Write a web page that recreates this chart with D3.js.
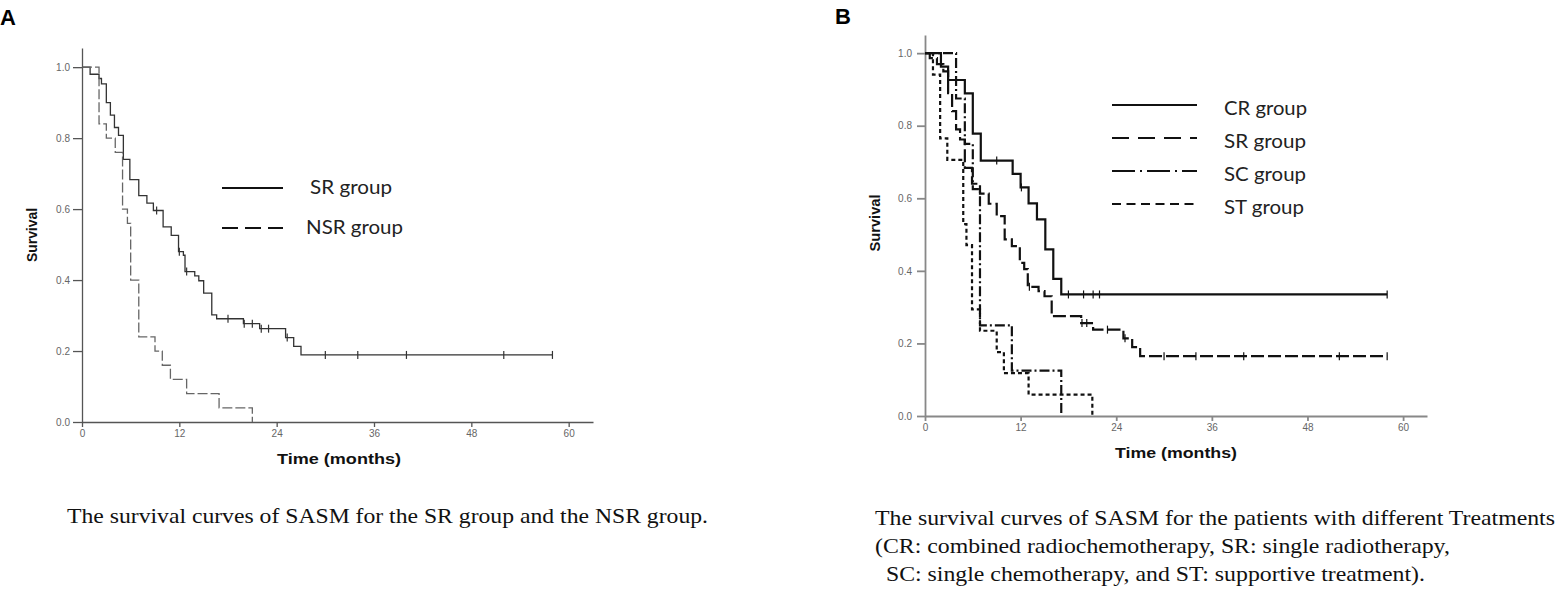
<!DOCTYPE html>
<html>
<head>
<meta charset="utf-8">
<title>SASM survival curves</title>
<style>
  body { margin: 0; background: #fff; }
  .axis text { font-family: "Liberation Sans", Arial, sans-serif; font-size: 10px; fill: #666; }
  .axtitle { font-family: "Liberation Sans", Arial, sans-serif; font-weight: bold; fill: #111; }
  .legend { font-family: Lato, "Open Sans", sans-serif; font-size: 20px; fill: #222; }
  .caption { font-family: "Liberation Serif", "Times New Roman", serif; font-size: 21px; fill: #111; }
  .panel { font-family: "Liberation Sans", Arial, sans-serif; font-size: 22px; font-weight: bold; fill: #000; }
</style>
<script src="https://cdn.jsdelivr.net/npm/d3@7"></script>
</head>
<body>
<script>
// axis ticks
var timeTicks = [0, 12, 24, 36, 48, 60];
var survTicks = [0, 0.2, 0.4, 0.6, 0.8, 1.0];

// panel A: [months, survival] at each drop
var srGroupA = [[0,1],[1.0,0.98],[2.1,0.968],[2.4,0.953],[3.0,0.9],[3.5,0.865],[4.0,0.83],[4.5,0.808],[5.1,0.74],[5.9,0.683],[7.0,0.638],[8.0,0.617],[8.8,0.596],[10.0,0.55],[11.0,0.526],[11.9,0.48],[12.5,0.47],[12.7,0.424],[13.9,0.412],[14.4,0.398],[15.0,0.363],[16.0,0.302],[16.6,0.291],[19.9,0.277],[21.9,0.263],[25.1,0.238],[26.1,0.213],[27.0,0.189],[58,0.189]];
var srCensorA = [9.2, 12.0, 12.9, 18.0, 20.0, 21.0, 22.1, 23.0, 25.3, 30, 34, 40, 52, 58];
var nsrGroupA = [[0,1],[2.1,0.84],[3.0,0.80],[4.1,0.76],[5.0,0.60],[5.6,0.56],[6.0,0.40],[7.0,0.24],[9.0,0.20],[9.9,0.16],[10.9,0.12],[12.9,0.08],[16.9,0.04],[21.0,0.0]];
var nsrCensorA = [];

// panel B
var crGroupB = [[0,1],[2.0,0.963],[2.9,0.926],[5.0,0.889],[6.0,0.778],[7.0,0.704],[11.0,0.667],[12.0,0.63],[13.0,0.586],[14.05,0.542],[15.1,0.459],[16.1,0.378],[17.1,0.335],[58,0.335]];
var crCensorB = [9.0, 12.1, 18.0, 19.9, 21.1, 21.9, 58];
var srGroupB = [[0,1],[0.6,0.986],[1.5,0.97],[2.3,0.95],[2.9,0.89],[3.4,0.84],[3.9,0.79],[4.4,0.762],[5.0,0.684],[5.9,0.64],[6.9,0.613],[8.0,0.585],[9.0,0.551],[10.0,0.487],[10.9,0.468],[11.9,0.422],[12.45,0.405],[12.9,0.356],[14.25,0.344],[15.0,0.33],[15.9,0.275],[19.6,0.256],[21.1,0.238],[24.9,0.214],[26.0,0.19],[27.0,0.165],[58,0.165]];
var srCensorB = [13.1, 19.7, 20.3, 22.9, 25.1, 30, 34, 40, 52, 58];
var scGroupB = [[0,1],[3.9,0.875],[5.0,0.75],[6.0,0.625],[6.9,0.25],[10.9,0.125],[17.1,0]];
var scCensorB = [];
var stGroupB = [[0,1],[1.0,0.941],[1.9,0.765],[2.8,0.706],[4.8,0.529],[5.2,0.471],[5.9,0.294],[6.9,0.235],[9.0,0.176],[9.9,0.118],[13.0,0.059],[21.0,0]];
var stCensorB = [];

var legendA = ["SR group", "NSR group"];
var legendB = ["CR group", "SR group", "SC group", "ST group"];

var captionA = ["The survival curves of SASM for the SR group and the NSR group."];
var captionB = ["The survival curves of SASM for the patients with different Treatments",
                "(CR: combined radiochemotherapy, SR: single radiotherapy,",
                " SC: single chemotherapy, and ST: supportive treatment)."];

var svg = d3.select("body").append("svg")
    .attr("width", 1558)
    .attr("height", 592);

function survAt(curve, t) {
  var v = curve[0][1];
  curve.forEach(function (d) { if (d[0] <= t) v = d[1]; });
  return v;
}

function drawPanel(p) {
  var x = d3.scaleLinear().domain([0, 63]).range(p.xr);
  var y = d3.scaleLinear().domain([0, p.ytop]).range(p.yr);
  var g = svg.append("g");

  // AXES
  g.append("g").attr("class", "axis")
      .attr("transform", "translate(0," + p.yr[0] + ")")
      .call(d3.axisBottom(x).tickValues(timeTicks).tickFormat(d3.format("d"))
        .tickSize(5).tickSizeOuter(0).tickPadding(3));
  g.append("g").attr("class", "axis")
      .attr("transform", "translate(" + p.xr[0] + ",0)")
      .call(d3.axisLeft(y).tickValues(survTicks).tickFormat(d3.format(".1f"))
        .tickSize(p.tick).tickSizeOuter(0).tickPadding(p.pad));
  g.selectAll(".axis path, .axis line").style("stroke", p.axisColour).style("stroke-width", p.axisWidth);

  // CURVES
  var line = d3.line().x(function (d) { return x(d[0]); }).y(function (d) { return y(d[1]); })
      .curve(d3.curveStepAfter);
  p.series.forEach(function (s) {
    g.append("path").datum(s.data)
      .attr("d", line)
      .style("fill", "none")
      .style("stroke", s.colour)
      .style("stroke-width", p.lineWidth)
      .style("stroke-dasharray", s.dash);
    g.selectAll(null).data(s.censor).enter().append("line")
      .attr("x1", function (t) { return x(t); })
      .attr("x2", function (t) { return x(t); })
      .attr("y1", function (t) { return y(survAt(s.data, t)) - 4; })
      .attr("y2", function (t) { return y(survAt(s.data, t)) + 4; })
      .style("stroke", s.colour)
      .style("stroke-width", 1.2);
  });

  // TITLES
  g.append("text").attr("class", "axtitle")
    .attr("x", p.xTitle[0]).attr("y", p.xTitle[1])
    .attr("font-size", "15px")
    .attr("textLength", p.xTitle[2]).attr("lengthAdjust", "spacingAndGlyphs")
    .text("Time (months)");
  g.append("text").attr("class", "axtitle")
    .attr("transform", "translate(" + p.yTitle[0] + "," + p.yTitle[1] + ") rotate(-90)")
    .attr("text-anchor", "middle")
    .attr("font-size", "14px")
    .attr("textLength", p.yTitle[2]).attr("lengthAdjust", "spacingAndGlyphs")
    .text("Survival");
  g.append("text").attr("class", "panel")
    .attr("x", p.letter[0]).attr("y", p.letter[1]).text(p.name);

  // LEGEND
  p.series.forEach(function (s, i) {
    var ly = p.legY + i * p.legStep;
    g.append("line")
      .attr("x1", p.legX[0]).attr("x2", p.legX[1])
      .attr("y1", ly).attr("y2", ly)
      .style("stroke", "#111").style("stroke-width", 2)
      .style("stroke-dasharray", s.legDash);
    g.append("text").attr("class", "legend")
      .attr("x", p.legX[2] + (s.legShift || 0)).attr("y", ly + p.legBase)
      .attr("textLength", s.legLen).attr("lengthAdjust", "spacingAndGlyphs")
      .text(s.label);
  });

  // CAPTION: the source is stretched sideways, so every line gets the first line's stretch
  var caps = p.caption.map(function (c, i) {
    return g.append("text").attr("class", "caption")
      .attr("x", p.capX[i]).attr("y", p.capY + i * 28)
      .style("white-space", "pre")
      .text(c);
  });
  var stretch = p.capWidth / caps[0].node().getComputedTextLength();
  caps.forEach(function (t) {
    t.attr("textLength", t.node().getComputedTextLength() * stretch)
      .attr("lengthAdjust", "spacingAndGlyphs");
  });
}

drawPanel({
  name: "A", letter: [0, 25],
  xr: [82, 593], yr: [422, 48], ytop: 1.054,
  tick: 9, pad: 3, axisColour: "#555", axisWidth: 1.3, lineWidth: 1.3,
  xTitle: [277, 464, 124], yTitle: [37, 235, 54],
  legY: 188, legStep: 40, legBase: 6, legX: [222, 283, 306],
  series: [
    {data: srGroupA, censor: srCensorA, colour: "#333", dash: null, label: legendA[0], legDash: null, legLen: 82, legShift: 4},
    {data: nsrGroupA, censor: nsrCensorA, colour: "#666", dash: "10,3", label: legendA[1], legDash: "16,7", legLen: 97}
  ],
  caption: captionA, capX: [67], capY: 523, capWidth: 641
});

drawPanel({
  name: "B", letter: [835, 24],
  xr: [925, 1427], yr: [416, 35], ytop: 1.05,
  tick: 8, pad: 5, axisColour: "#888", axisWidth: 1.8, lineWidth: 2.2,
  xTitle: [1115, 458, 122], yTitle: [880, 223, 57],
  legY: 105, legStep: 33, legBase: 10, legX: [1112, 1197, 1224],
  series: [
    {data: crGroupB, censor: crCensorB, colour: "#111", dash: null, label: legendB[0], legDash: null, legLen: 83},
    {data: srGroupB, censor: srCensorB, colour: "#111", dash: "13,4", label: legendB[1], legDash: "17,9", legLen: 82},
    {data: scGroupB, censor: scCensorB, colour: "#111", dash: "10,3,2,3", label: legendB[2], legDash: "23,5,2,5", legLen: 82},
    {data: stGroupB, censor: stCensorB, colour: "#111", dash: "4,3", label: legendB[3], legDash: "9,5.5", legLen: 80}
  ],
  caption: captionB, capX: [875, 875, 880], capY: 525, capWidth: 680
});
</script>
</body>
</html>
